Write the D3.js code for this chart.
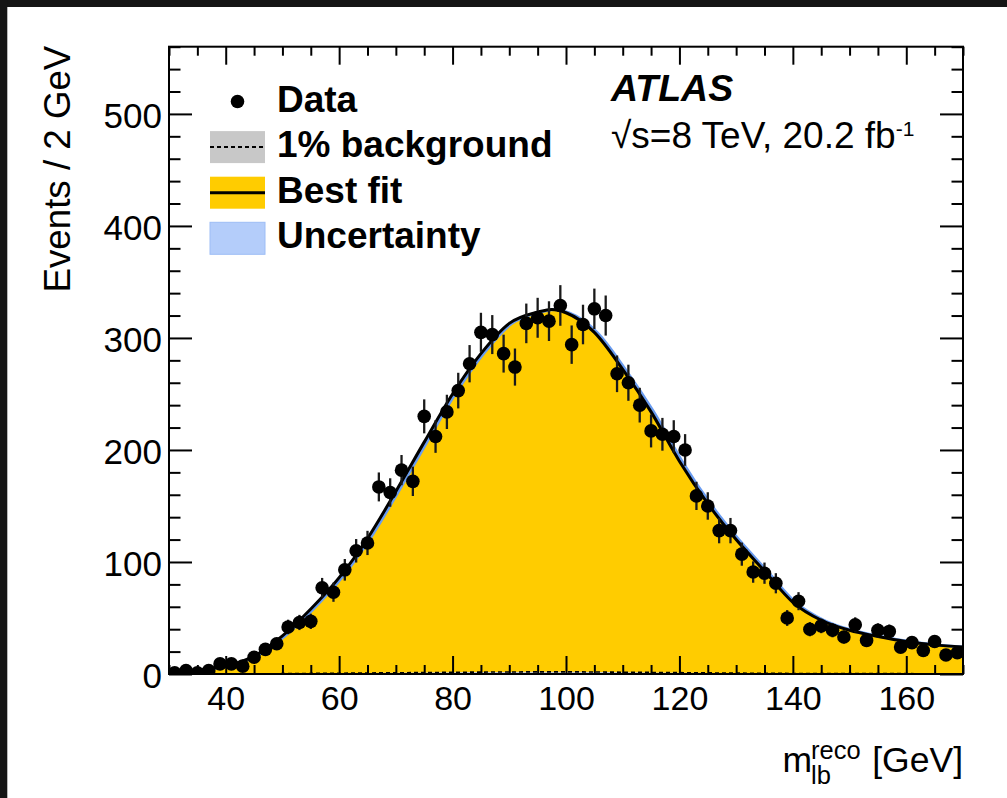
<!DOCTYPE html>
<html>
<head>
<meta charset="utf-8">
<script src="https://cdn.jsdelivr.net/npm/d3@7"></script>
<style>
  html, body { margin: 0; padding: 0; background: #ffffff; }
  svg { display: block; }
  text { font-family: "Liberation Sans", Arial, Helvetica, sans-serif; fill: #000; }
</style>
</head>
<body>
<svg id="chart" width="1007" height="798"></svg>
<script>
// m_lb reco distribution: bin centres (GeV), 2 GeV bins
const binCenters = [31,33,35,37,39,41,43,45,47,49,51,53,55,57,59,61,63,65,67,69,
  71,73,75,77,79,81,83,85,87,89,91,93,95,97,99,101,103,105,107,109,
  111,113,115,117,119,121,123,125,127,129,131,133,135,137,139,141,143,145,147,149,
  151,153,155,157,159,161,163,165,167,169];
// observed events per bin
const dataCounts = [1,3,1,3,9,9,7,15,22,27,42,46,47,77,73,93,110,117,167,162,
  182,172,230,212,234,253,277,305,303,286,274,313,318,315,329,294,312,326,320,268,
  260,240,217,214,212,200,159,150,128,128,107,91,90,81,50,65,40,43,39,33,
  44,30,39,38,24,28,21,29,17,19];

// best-fit template, sampled along the mass axis
const fitMass = [30,35,40,45,50,55,60,65,70,75,80,85,90,95,97.5,100,105,110,115,120,
  125,130,135,140,145,150,155,160,165,170];
const fitEvents = [1.5,3.5,7,16,34,58,86,121,163,207,250,286,313,323,325.5,322.5,305,272,234,190,
  152,120,92,64,48,39,33.5,29,26,24];
// 1% background component on the same grid
const bkgEvents = [0.1,0.1,0.1,0.2,0.3,0.5,0.7,0.9,1.1,1.3,1.5,1.7,1.8,1.9,1.9,1.9,1.8,1.6,1.4,1.2,
  1.0,0.8,0.6,0.5,0.4,0.3,0.3,0.3,0.2,0.2];
// mass shift covered by the uncertainty band (GeV)
const bandShift = 0.45;

// axis ticks
const xMajorTicks = [40,60,80,100,120,140,160];
const yMajorTicks = [0,100,200,300,400,500];

const W = 1007, H = 798;
const L = 169, R = 963, T = 46.7, B = 674;

const svg = d3.select("#chart");

// page background and dark edge strips
svg.append("rect").attr("x",0).attr("y",0).attr("width",W).attr("height",H).attr("fill","#ffffff");
svg.append("rect").attr("x",0).attr("y",0).attr("width",W).attr("height",7).attr("fill","#151515");
svg.append("rect").attr("x",0).attr("y",0).attr("width",7.3).attr("height",H).attr("fill","#151515");

const x = d3.scaleLinear().domain([30,170]).range([L,R]);
const y = d3.scaleLinear().domain([0,560]).range([B,T]);

svg.append("defs").append("clipPath").attr("id","plotclip")
  .append("rect").attr("x",L).attr("y",T).attr("width",R-L).attr("height",B-T);

const plot = svg.append("g").attr("clip-path","url(#plotclip)");

const fitPts = fitMass.map((m,i) => ({m, v: fitEvents[i]}));
const bkgPts = fitMass.map((m,i) => ({m, v: bkgEvents[i]}));

// best fit filled area
plot.append("path")
  .datum(fitPts)
  .attr("fill","#ffcc00")
  .attr("d", d3.area().curve(d3.curveMonotoneX).x(d => x(d.m)).y0(y(0)).y1(d => y(d.v)));

// background component
plot.append("path")
  .datum(bkgPts)
  .attr("fill","#c8c8c8")
  .attr("d", d3.area().curve(d3.curveMonotoneX).x(d => x(d.m)).y0(y(0)).y1(d => y(d.v)));
plot.append("path")
  .datum(bkgPts)
  .attr("fill","none").attr("stroke","#000").attr("stroke-width",1.6)
  .attr("stroke-dasharray","4,3")
  .attr("d", d3.line().curve(d3.curveMonotoneX).x(d => x(d.m)).y(d => y(d.v)));

// uncertainty band edge
plot.append("path")
  .datum(fitPts)
  .attr("fill","none").attr("stroke","#6a9cf0").attr("stroke-width",3)
  .attr("d", d3.line().curve(d3.curveMonotoneX).x(d => x(d.m + bandShift)).y(d => y(d.v)));

// best fit line
plot.append("path")
  .datum(fitPts)
  .attr("fill","none").attr("stroke","#000").attr("stroke-width",3)
  .attr("d", d3.line().curve(d3.curveMonotoneX).x(d => x(d.m)).y(d => y(d.v)));

// data with statistical error bars
const pts = binCenters.map((c,i) => ({c, n: dataCounts[i]}));
plot.append("g").selectAll("line").data(pts).join("line")
  .attr("x1", d => x(d.c)).attr("x2", d => x(d.c))
  .attr("y1", d => y(d.n + Math.sqrt(d.n))).attr("y2", d => y(Math.max(0, d.n - Math.sqrt(d.n))))
  .attr("stroke","#1a1a1a").attr("stroke-width",2.3);
plot.append("g").selectAll("circle").data(pts).join("circle")
  .attr("cx", d => x(d.c)).attr("cy", d => y(d.n)).attr("r",6.8)
  .attr("fill","#000");

// frame ticks, all four sides, pointing inwards
const xMinor = d3.range(30,171,5).filter(v => !xMajorTicks.includes(v));
const yMinor = d3.range(0,561,20).filter(v => !yMajorTicks.includes(v));

function tickGroup(axis, tx, ty) {
  const g = svg.append("g").attr("transform",`translate(${tx},${ty})`).call(axis);
  g.select(".domain").remove();
  g.selectAll(".tick line").attr("stroke","#000").attr("stroke-width",2);
  return g;
}
// bottom
tickGroup(d3.axisBottom(x).tickValues(xMinor).tickSize(-9).tickFormat(""), 0, B);
const xb = tickGroup(d3.axisBottom(x).tickValues(xMajorTicks).tickSize(-18).tickFormat(d3.format("d")), 0, B);
xb.selectAll(".tick text")
  .attr("y", 36).attr("dy", 0)
  .style("font-size","34px").style("font-family","Liberation Sans, Arial, sans-serif").attr("fill","#000");
// top
tickGroup(d3.axisTop(x).tickValues(xMinor).tickSize(-9).tickFormat(""), 0, T);
tickGroup(d3.axisTop(x).tickValues(xMajorTicks).tickSize(-18).tickFormat(""), 0, T);
// left
tickGroup(d3.axisLeft(y).tickValues(yMinor).tickSize(-11.5).tickFormat(""), L, 0);
const yl = tickGroup(d3.axisLeft(y).tickValues(yMajorTicks).tickSize(-23).tickFormat(d3.format("d")), L, 0);
yl.selectAll(".tick text")
  .attr("x", -7).attr("dy", "0.38em")
  .style("font-size","35px").style("font-family","Liberation Sans, Arial, sans-serif").attr("fill","#000");
// right
tickGroup(d3.axisRight(y).tickValues(yMinor).tickSize(-11.5).tickFormat(""), R, 0);
tickGroup(d3.axisRight(y).tickValues(yMajorTicks).tickSize(-23).tickFormat(""), R, 0);

// frame
svg.append("rect").attr("x",L).attr("y",T).attr("width",R-L).attr("height",B-T)
  .attr("fill","none").attr("stroke","#000").attr("stroke-width",2);

// axis titles
svg.append("text")
  .attr("transform",`translate(70,${T-1}) rotate(-90)`)
  .attr("text-anchor","end")
  .style("font-size","36.7px")
  .text("Events / 2 GeV");

svg.append("text").attr("x",R).attr("y",772).attr("text-anchor","end")
  .style("font-size","35.5px").text("[GeV]");
svg.append("text").attr("x",812).attr("y",772).attr("text-anchor","end")
  .style("font-size","35.5px").text("m");
svg.append("text").attr("x",811).attr("y",758.5).style("font-size","25.5px").text("reco");
svg.append("text").attr("x",811).attr("y",784).style("font-size","25.5px").text("lb");

// ATLAS label
svg.append("text").attr("x",611).attr("y",101)
  .style("font-size","37.5px").style("font-weight","bold").style("font-style","italic")
  .text("ATLAS");
const lumi = svg.append("text").attr("x",611).attr("y",148).style("font-size","37px");
lumi.append("tspan").text("\u221As=8 TeV, 20.2 fb");
lumi.append("tspan").attr("dy",-12).style("font-size","21px").text("-1");

// legend
const legRows = [
  {label: "Data", type: "data"},
  {label: "1% background", type: "bkg"},
  {label: "Best fit", type: "fit"},
  {label: "Uncertainty", type: "unc"}
];
const legX = 210, legW = 55, legH = 32, legY0 = 101.5, legDy = 45.6;
const leg = svg.append("g");
legRows.forEach((r,i) => {
  const cy = legY0 + i*legDy;
  if (r.type === "data") {
    leg.append("circle").attr("cx", legX + legW/2).attr("cy", cy).attr("r", 6.8).attr("fill","#000");
  } else if (r.type === "bkg") {
    leg.append("rect").attr("x",legX).attr("y",cy-legH/2).attr("width",legW).attr("height",legH).attr("fill","#c8c8c8");
    leg.append("line").attr("x1",legX).attr("x2",legX+legW).attr("y1",cy).attr("y2",cy)
      .attr("stroke","#000").attr("stroke-width",2).attr("stroke-dasharray","4,3");
  } else if (r.type === "fit") {
    leg.append("rect").attr("x",legX).attr("y",cy-legH/2).attr("width",legW).attr("height",legH).attr("fill","#ffcc00");
    leg.append("line").attr("x1",legX).attr("x2",legX+legW).attr("y1",cy).attr("y2",cy)
      .attr("stroke","#000").attr("stroke-width",3);
  } else {
    leg.append("rect").attr("x",legX).attr("y",cy-legH/2).attr("width",legW).attr("height",legH)
      .attr("fill","#b4cdfa").attr("stroke","#9dbdf6").attr("stroke-width",1);
  }
  leg.append("text").attr("x",277).attr("y",cy+10)
    .style("font-size","37px").style("font-weight","bold").text(r.label);
});
</script>
</body>
</html>
